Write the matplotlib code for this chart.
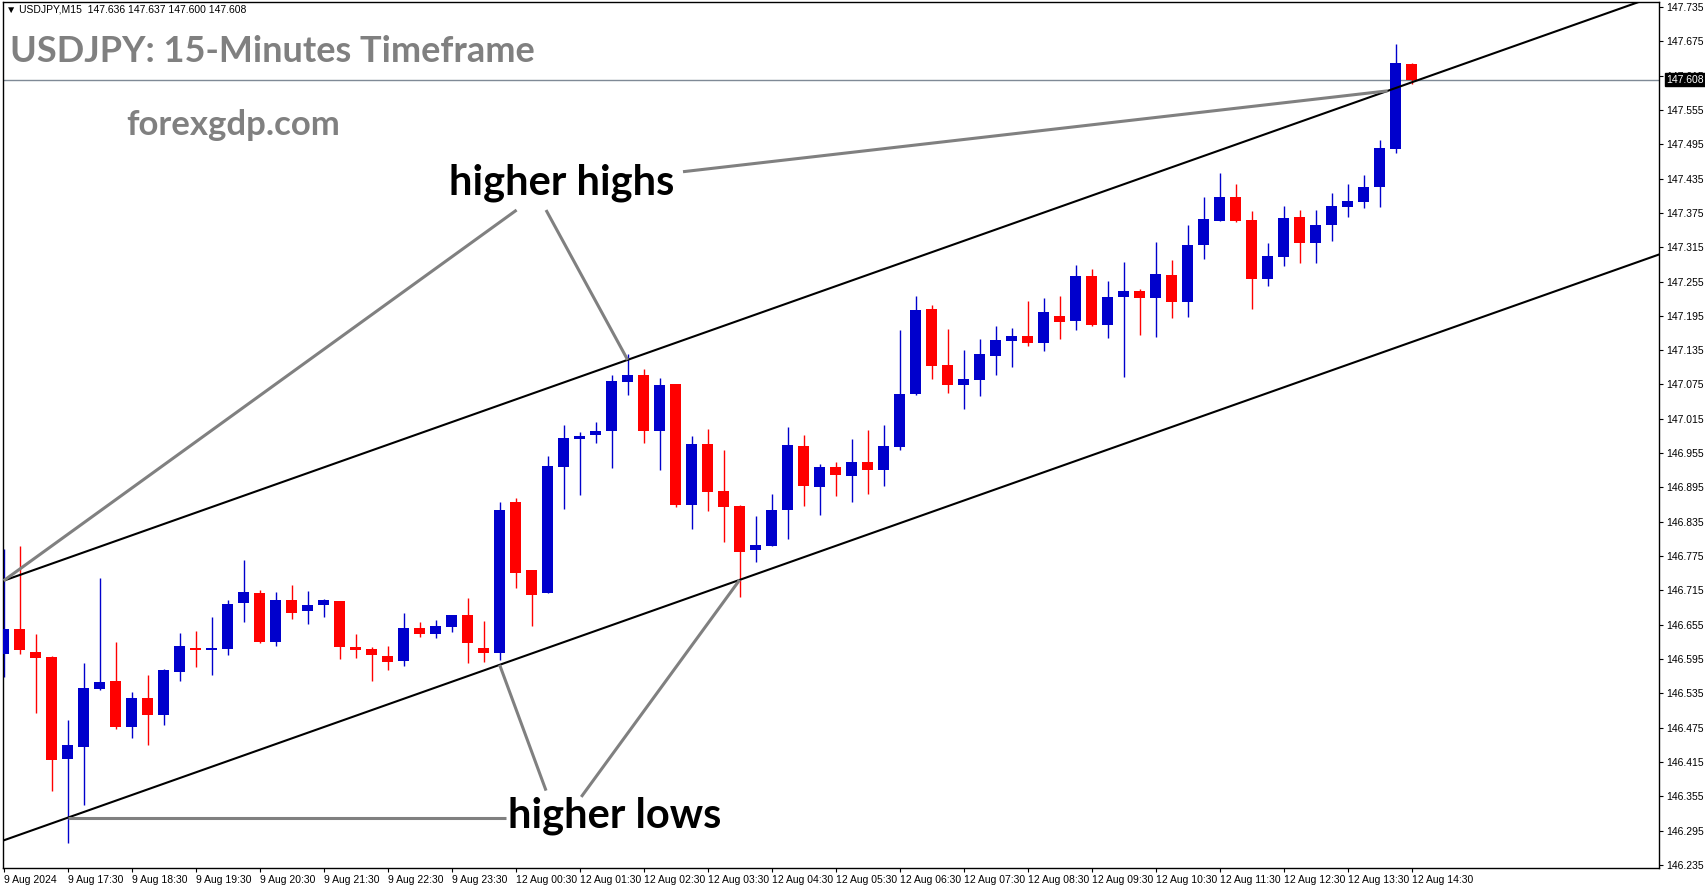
import numpy as np
import matplotlib
matplotlib.use("Agg")
import matplotlib.pyplot as plt
import matplotlib.transforms as mtransforms

# USDJPY M15 candles (open, high, low, close)
opens = [146.603, 146.648, 146.607, 146.599, 146.421, 146.442, 146.543, 146.557, 146.476, 146.527,
         146.497, 146.572, 146.614, 146.610, 146.613, 146.693, 146.711, 146.625, 146.698, 146.679,
         146.690, 146.697, 146.616, 146.613, 146.600, 146.592, 146.649, 146.639, 146.651, 146.672,
         146.614, 146.606, 146.870, 146.751, 146.711, 146.931, 146.980, 146.986, 146.993, 147.079,
         147.092, 146.994, 147.075, 146.864, 146.971, 146.889, 146.863, 146.785, 146.793, 146.856,
         146.968, 146.896, 146.931, 146.915, 146.940, 146.926, 146.965, 147.058, 147.207, 147.109,
         147.074, 147.083, 147.125, 147.151, 147.160, 147.148, 147.195, 147.186, 147.265, 147.179,
         147.228, 147.238, 147.226, 147.266, 147.219, 147.319, 147.361, 147.403, 147.363, 147.259,
         147.298, 147.368, 147.322, 147.354, 147.385, 147.394, 147.421, 147.486, 147.636]
highs = [146.787, 146.793, 146.639, 146.600, 146.488, 146.588, 146.737, 146.625, 146.537, 146.567,
         146.578, 146.641, 146.644, 146.669, 146.698, 146.768, 146.716, 146.712, 146.725, 146.714,
         146.700, 146.697, 146.639, 146.616, 146.618, 146.676, 146.660, 146.663, 146.672, 146.702,
         146.661, 146.870, 146.877, 146.751, 146.950, 147.004, 146.992, 147.009, 147.092, 147.128,
         147.102, 147.086, 147.076, 146.985, 146.997, 146.960, 146.864, 146.845, 146.884, 147.001,
         146.987, 146.936, 146.940, 146.980, 146.995, 147.004, 147.170, 147.230, 147.214, 147.172,
         147.135, 147.155, 147.177, 147.174, 147.221, 147.226, 147.230, 147.284, 147.277, 147.256,
         147.289, 147.242, 147.324, 147.293, 147.354, 147.403, 147.445, 147.426, 147.378, 147.322,
         147.387, 147.380, 147.380, 147.410, 147.426, 147.441, 147.502, 147.670, 147.637]
lows = [146.563, 146.604, 146.500, 146.365, 146.274, 146.340, 146.541, 146.473, 146.457, 146.445,
        146.480, 146.557, 146.581, 146.567, 146.602, 146.660, 146.623, 146.618, 146.665, 146.656,
        146.669, 146.595, 146.597, 146.557, 146.576, 146.583, 146.634, 146.632, 146.642, 146.588,
        146.590, 146.593, 146.720, 146.652, 146.711, 146.857, 146.881, 146.973, 146.929, 147.057,
        146.973, 146.926, 146.861, 146.822, 146.854, 146.800, 146.704, 146.764, 146.793, 146.805,
        146.863, 146.847, 146.880, 146.870, 146.884, 146.898, 146.960, 147.057, 147.085, 147.060,
        147.032, 147.055, 147.092, 147.106, 147.142, 147.134, 147.155, 147.170, 147.177, 147.156,
        147.088, 147.162, 147.158, 147.191, 147.193, 147.294, 147.361, 147.359, 147.207, 147.247,
        147.282, 147.287, 147.287, 147.326, 147.368, 147.384, 147.386, 147.480, 147.600]
closes = [146.648, 146.611, 146.597, 146.419, 146.445, 146.544, 146.555, 146.476, 146.527, 146.497,
          146.576, 146.618, 146.611, 146.614, 146.691, 146.712, 146.625, 146.698, 146.676, 146.690,
          146.698, 146.616, 146.611, 146.602, 146.590, 146.649, 146.639, 146.653, 146.672, 146.623,
          146.606, 146.856, 146.746, 146.707, 146.933, 146.982, 146.985, 146.994, 147.081, 147.092,
          146.994, 147.074, 146.864, 146.971, 146.887, 146.861, 146.783, 146.794, 146.856, 146.969,
          146.898, 146.931, 146.917, 146.940, 146.926, 146.968, 147.058, 147.205, 147.107, 147.074,
          147.085, 147.128, 147.153, 147.160, 147.148, 147.202, 147.184, 147.265, 147.179, 147.228,
          147.238, 147.226, 147.268, 147.219, 147.319, 147.364, 147.403, 147.361, 147.259, 147.300,
          147.366, 147.322, 147.354, 147.387, 147.396, 147.420, 147.489, 147.637, 147.608]

time_labels = ["9 Aug 2024", "9 Aug 17:30", "9 Aug 18:30", "9 Aug 19:30", "9 Aug 20:30",
               "9 Aug 21:30", "9 Aug 22:30", "9 Aug 23:30", "12 Aug 00:30", "12 Aug 01:30",
               "12 Aug 02:30", "12 Aug 03:30", "12 Aug 04:30", "12 Aug 05:30", "12 Aug 06:30",
               "12 Aug 07:30", "12 Aug 08:30", "12 Aug 09:30", "12 Aug 10:30", "12 Aug 11:30",
               "12 Aug 12:30", "12 Aug 13:30", "12 Aug 14:30"]
price_ticks = [146.235 + 0.06 * k for k in range(26)]
last_price = 147.608

# channel lines (price at bar 0 and slope per bar)
upper_start, lower_start, slope = 146.732, 146.278, 0.0099
upper_touch = [0, 39, 86.5]
lower_touch = [4, 31, 46]

BLUE = "#0000cc"
RED = "#ff0000"
GREY = "#808080"

W, H = 1705, 888
fig = plt.figure(figsize=(W / 100, H / 100), dpi=100)
ax = fig.add_axes([3 / W, 20 / H, (1659 - 3) / W, (868 - 2) / H])

x = np.arange(len(opens))
o = np.array(opens); c = np.array(closes)
colors = [BLUE if cc >= oo else RED for oo, cc in zip(o, c)]
bottoms = np.minimum(o, c)
heights = np.maximum(np.abs(c - o), 0.0025)
ax.vlines(x, lows, highs, colors=colors, linewidth=1.0, zorder=2)
ax.bar(x, heights, bottom=bottoms, width=0.66, color=colors, linewidth=0, zorder=3)

# current price line
ax.axhline(last_price, color="#7f8a96", linewidth=1.0, zorder=1)

# channel
ax.axline((0, upper_start), slope=slope, color="black", linewidth=1.5, zorder=4)
ax.axline((0, lower_start), slope=slope, color="black", linewidth=1.5, zorder=4)

ax.set_xlim(-0.04, 103.46)
ax.set_ylim(146.2297, 147.7437)

# annotations
def up(i):
    return upper_start + slope * i

def lo(i):
    return lower_start + slope * i

ax.text(34.9, 147.428, "higher highs", ha="center", va="center", fontsize=30,
        fontweight="bold", family="Lato", color="black", zorder=6)
hh_from = [(32.06, 147.380), (33.9, 147.380), (42.46, 147.447)]
for (sx, sy), t in zip(hh_from, upper_touch):
    ax.plot([sx, t], [sy, up(t)], color=GREY, linewidth=2.2, zorder=5, solid_capstyle="butt")

ax.text(38.2, 146.321, "higher lows", ha="center", va="center", fontsize=30,
        fontweight="bold", family="Lato", color="black", zorder=6)
hl_from = [(31.4, lo(4)), (33.9, 146.365), (36.1, 146.354)]
for (sx, sy), t in zip(hl_from, lower_touch):
    ax.plot([sx, t], [sy, lo(t)], color=GREY, linewidth=2.2, zorder=5, solid_capstyle="butt")

# axes styling
for s in ax.spines.values():
    s.set_color("black")
    s.set_linewidth(1.0)
ax.yaxis.tick_right()
ax.set_yticks(price_ticks)
ax.set_yticklabels([f"{p:.3f}" for p in price_ticks])
ax.set_xticks(np.arange(0, 4 * len(time_labels), 4))
ax.set_xticklabels(time_labels, ha="left")
ax.tick_params(axis="both", direction="out", length=3, width=0.8, colors="black",
               labelsize=7.5, pad=2)
for lab in ax.get_xticklabels() + ax.get_yticklabels():
    lab.set_family("Liberation Sans")

# price box on right axis
trans = mtransforms.blended_transform_factory(ax.transAxes, ax.transData)
ax.text(1.0045, last_price, f"{last_price:.3f}", transform=trans, ha="left", va="center",
        fontsize=7.5, family="Liberation Sans", color="white", clip_on=False, zorder=10,
        bbox=dict(boxstyle="square,pad=0.15", facecolor="black", edgecolor="black"))

# header texts
fig.text(6 / W, 1 - 10 / H, "\u25bc USDJPY,M15  147.636 147.637 147.600 147.608",
         ha="left", va="center", fontsize=7.5, family=["Liberation Sans", "DejaVu Sans"],
         color="black")
fig.text(10 / W, 1 - 52 / H, "USDJPY: 15-Minutes Timeframe", ha="left", va="center",
         fontsize=26, fontweight="bold", family="Lato", color=GREY)
fig.text(126 / W, 1 - 125 / H, "forexgdp.com", ha="left", va="center",
         fontsize=25, fontweight="bold", family="Lato", color=GREY)

fig.savefig("out.png", dpi=100)
